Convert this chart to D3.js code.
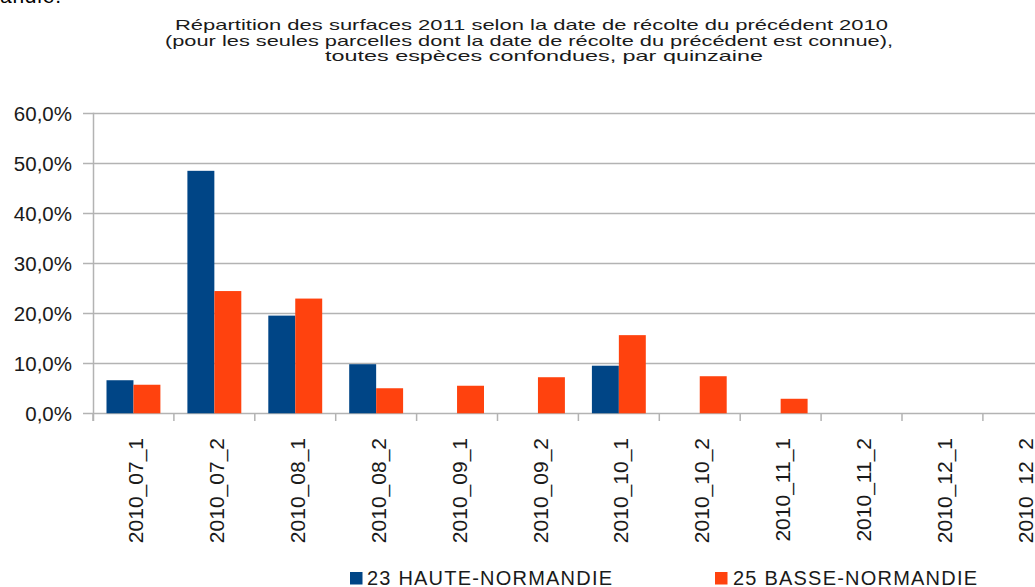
<!DOCTYPE html>
<html>
<head>
<meta charset="utf-8">
<script src="https://cdn.jsdelivr.net/npm/d3@7/dist/d3.min.js"></script>
<style>
  html, body { margin: 0; padding: 0; background: #fff; }
  svg { display: block; font-family: "Liberation Sans", Arial, sans-serif; }
</style>
</head>
<body>
<svg id="chart" width="1035" height="587"></svg>
<script>
// Fortnight of the previous harvest (year_month_half)
const categories = ["2010_07_1", "2010_07_2", "2010_08_1", "2010_08_2", "2010_09_1", "2010_09_2",
                    "2010_10_1", "2010_10_2", "2010_11_1", "2010_11_2", "2010_12_1", "2010_12_2"];
const seriesNames = ["23 HAUTE-NORMANDIE", "25 BASSE-NORMANDIE"];
// Share of 2011 surfaces (fraction)
const hauteNormandie = [0.066, 0.484, 0.195, 0.098, 0, 0, 0.095, 0, 0, 0, 0, 0];
const basseNormandie = [0.057, 0.244, 0.229, 0.050, 0.055, 0.072, 0.156, 0.074, 0.029, 0, 0, 0];
const yTicks = [0, 0.1, 0.2, 0.3, 0.4, 0.5, 0.6];
const titleLines = [
  "Répartition des surfaces 2011 selon la date de récolte du précédent 2010",
  "(pour les seules parcelles dont la date de récolte du précédent est connue),",
  "toutes espèces confondues, par quinzaine"
];
const colors = ["#004586", "#ff420e"];

const svg = d3.select("#chart");
const fmt = v => d3.format(".1f")(v * 100).replace(".", ",") + "%";

// Remnant of the preceding paragraph
svg.append("text").attr("x", 0).attr("y", 3)
  .attr("font-size", 21).attr("fill", "#000")
  .attr("textLength", 61).attr("lengthAdjust", "spacing")
  .text("andie.");

// Title: three centred lines, slightly condensed vertically
const titleLayout = [
  { x: 175, y: 30, w: 713 },
  { x: 165, y: 45.5, w: 728 },
  { x: 325, y: 61, w: 438 }
];
svg.append("g").selectAll("text").data(titleLines).join("text")
  .attr("transform", (d, i) => `translate(${titleLayout[i].x},${titleLayout[i].y}) scale(1,0.78)`)
  .attr("font-size", 19.5)
  .attr("fill", "#1a1a1a")
  .attr("textLength", (d, i) => titleLayout[i].w)
  .attr("lengthAdjust", "spacingAndGlyphs")
  .text(d => d);

// Scales
const x = d3.scaleBand().domain(categories).range([93, 93 + 12 * 80.9]).padding(0);
const inner = d3.scaleBand().domain([0, 1]).range([13.5, 80.9 - 13.5]).padding(0);
const y = d3.scaleLinear().domain([0, 0.6]).range([413.3, 112.7]);

// Horizontal gridlines
svg.append("g").selectAll("line").data(yTicks).join("line")
  .attr("x1", 83).attr("x2", 1035)
  .attr("y1", d => Math.round(y(d)) + 0.5).attr("y2", d => Math.round(y(d)) + 0.5)
  .attr("stroke", "#b3b3b3").attr("stroke-width", 1.3);

// Y axis (labels only, ticks via gridlines)
const yAxis = d3.axisLeft(y).tickValues(yTicks).tickFormat(fmt).tickSize(0).tickPadding(0);
const yg = svg.append("g").attr("transform", "translate(72,0)").call(yAxis);
yg.select(".domain").remove();
yg.selectAll("text").attr("font-size", 20.5).attr("fill", "#1a1a1a")
  .attr("font-family", "Liberation Sans, Arial, sans-serif").attr("dy", "0.36em");

// Vertical axis line
svg.append("line").attr("x1", 93.5).attr("x2", 93.5)
  .attr("y1", y(0.6)).attr("y2", 421)
  .attr("stroke", "#b3b3b3").attr("stroke-width", 1.5);

// Category tick marks at band boundaries
const boundaries = categories.map(c => x(c)).concat([x.range()[1]]);
svg.append("g").selectAll("line").data(boundaries).join("line")
  .attr("x1", d => d).attr("x2", d => d)
  .attr("y1", y(0)).attr("y2", 421)
  .attr("stroke", "#b3b3b3").attr("stroke-width", 1.5);

// Bars
const series = [hauteNormandie, basseNormandie];
series.forEach((vals, s) => {
  svg.append("g").selectAll("rect").data(vals).join("rect")
    .attr("x", (d, i) => x(categories[i]) + inner(s))
    .attr("width", inner.bandwidth())
    .attr("y", d => y(d))
    .attr("height", d => y(0) - y(d))
    .attr("fill", colors[s]);
});

// Rotated category labels
svg.append("g").selectAll("text").data(categories).join("text")
  .attr("transform", d => `translate(${x(d) + x.bandwidth() / 2 + 2},438) rotate(-90)`)
  .attr("text-anchor", "end")
  .attr("dy", "0.36em")
  .attr("font-size", 21)
  .attr("fill", "#1a1a1a")
  .text(d => d);

// Legend
const legendLayout = [
  { sx: 350, tx: 367, w: 245 },
  { sx: 715, tx: 733, w: 244 }
];
const lg = svg.append("g");
seriesNames.forEach((name, i) => {
  lg.append("rect").attr("x", legendLayout[i].sx).attr("y", 572)
    .attr("width", 12.5).attr("height", 12.5).attr("fill", colors[i]);
  lg.append("text").attr("x", legendLayout[i].tx).attr("y", 584.5)
    .attr("font-size", 20).attr("fill", "#1a1a1a")
    .attr("textLength", legendLayout[i].w).attr("lengthAdjust", "spacing")
    .text(name);
});
</script>
</body>
</html>
